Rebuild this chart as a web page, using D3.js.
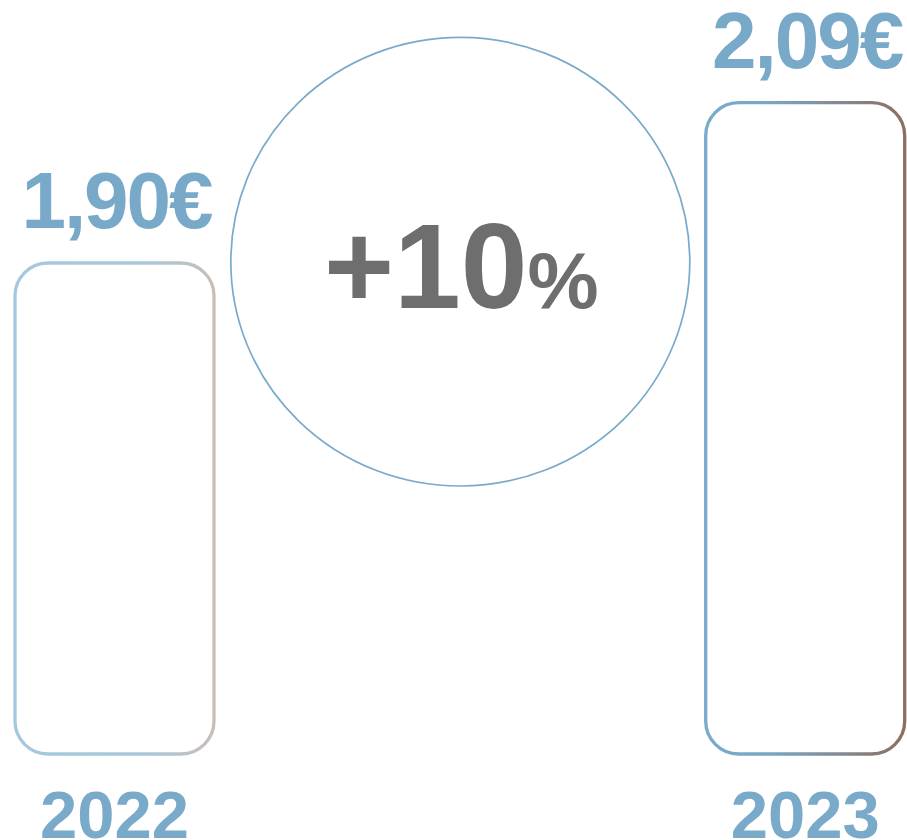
<!DOCTYPE html>
<html>
<head>
<meta charset="utf-8">
<script src="https://cdn.jsdelivr.net/npm/d3@7"></script>
<style>
  html, body { margin: 0; padding: 0; background: #fff; }
  svg { display: block; }
  text { font-family: "Liberation Sans", Arial, sans-serif; font-weight: bold; }
</style>
</head>
<body>
<svg id="chart" width="907" height="840"></svg>
<script>
// ---- data ----
const years = ["2022", "2023"];
const values = [1.90, 2.09];
const valueLabels = ["1,90€", "2,09€"];
const changeLabel = "+10";
const changeUnit = "%";

// ---- layout ----
const svg = d3.select("#chart");

const x = d3.scalePoint().domain(years).range([114.5, 805.2]);
const y = d3.scaleLinear().domain([1.318, 2.09]).range([754, 102.7]);

const defs = svg.append("defs");
const gradStops = [
  [["0%", "#A6C8DD"], ["70%", "#AAC7D9"], ["100%", "#CCBDB4"]],
  [["0%", "#79ABCB"], ["35%", "#7BA4C1"], ["100%", "#8C6F60"]]
];
gradStops.forEach((stops, i) => {
  const g = defs.append("linearGradient")
    .attr("id", "g" + i)
    .attr("x1", "0%").attr("x2", "100%").attr("y1", "0%").attr("y2", "0%");
  stops.forEach(s => g.append("stop").attr("offset", s[0]).attr("stop-color", s[1]));
});

// bars
const bw = 199;
svg.selectAll("rect.bar")
  .data(years)
  .join("rect")
  .attr("class", "bar")
  .attr("x", d => x(d) - bw / 2)
  .attr("y", (d, i) => y(values[i]))
  .attr("width", bw)
  .attr("height", (d, i) => y(y.domain()[0]) - y(values[i]))
  .attr("rx", 33).attr("ry", 33)
  .attr("fill", "none")
  .attr("stroke", (d, i) => `url(#g${i})`)
  .attr("stroke-width", 3.3);

// value labels
svg.selectAll("text.val")
  .data(years)
  .join("text")
  .attr("class", "val")
  .attr("x", d => x(d) + 2)
  .attr("y", (d, i) => y(values[i]) - 35)
  .attr("text-anchor", "middle")
  .attr("font-size", 80)
  .attr("letter-spacing", -2)
  .attr("fill", "#79A9C9")
  .text((d, i) => valueLabels[i]);

// year labels
svg.selectAll("text.year")
  .data(years)
  .join("text")
  .attr("class", "year")
  .attr("x", d => x(d))
  .attr("y", 838)
  .attr("text-anchor", "middle")
  .attr("font-size", 67)
  .attr("fill", "#7AAACA")
  .text(d => d);

// change circle
const ccx = 460.3;
svg.append("ellipse")
  .attr("cx", ccx)
  .attr("cy", 261.7)
  .attr("rx", 229.5)
  .attr("ry", 224.3)
  .attr("fill", "none")
  .attr("stroke", "#7AAACB")
  .attr("stroke-width", 1.7);

const t = svg.append("text")
  .attr("x", ccx + 1)
  .attr("y", 308)
  .attr("text-anchor", "middle")
  .attr("fill", "#6E6E6E");
t.append("tspan").attr("font-size", 120).text(changeLabel);
t.append("tspan").attr("font-size", 80).text(changeUnit);
</script>
</body>
</html>
